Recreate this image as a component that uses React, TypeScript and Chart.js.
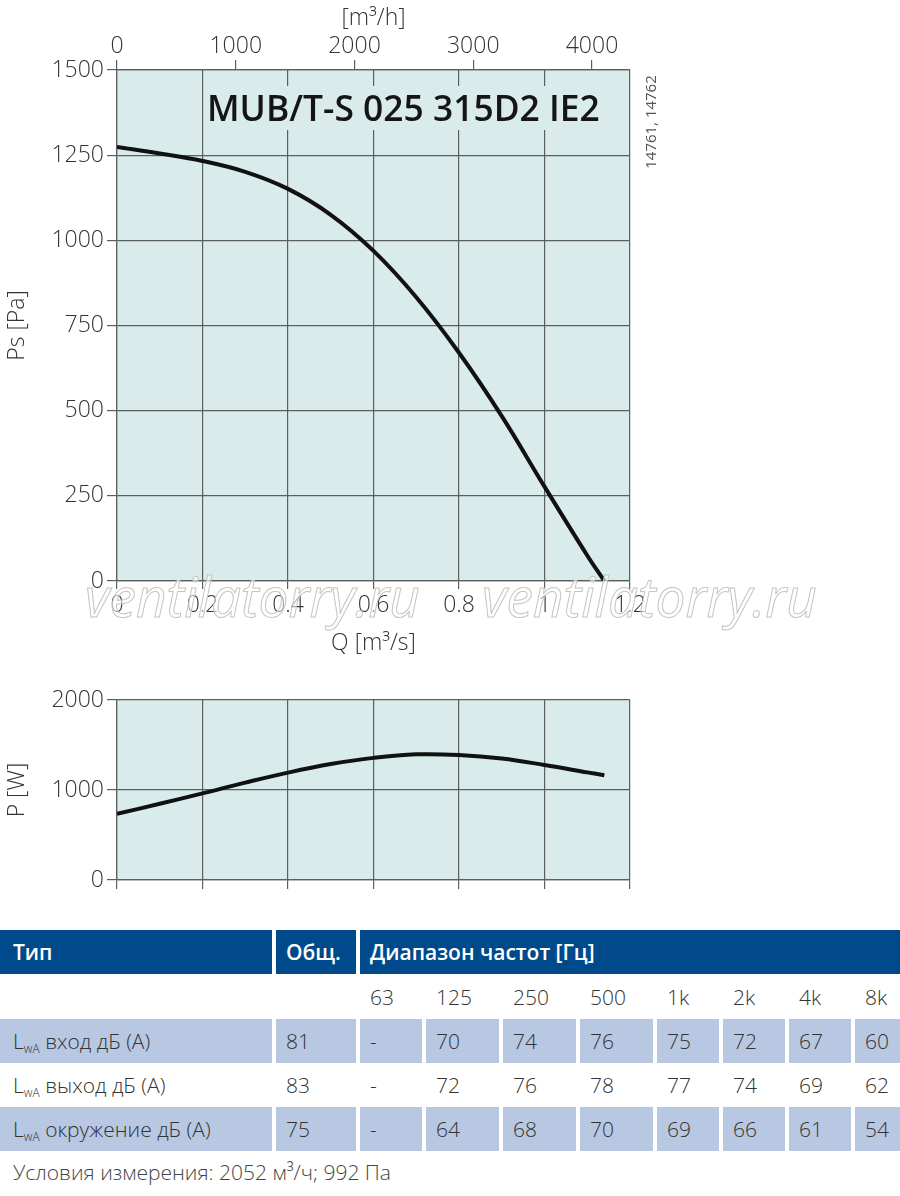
import React, { useEffect, useRef } from 'react';
import { Chart, registerables } from 'chart.js';

Chart.register(...registerables);

// ---- data ----
const flowQ = [0, 0.1, 0.2, 0.3, 0.4, 0.5, 0.6, 0.7, 0.8, 0.9, 1.0, 1.1, 1.14];
const staticPressure = [1274, 1255, 1233, 1201, 1151, 1075, 969, 833, 670, 484, 277, 75, 0];
const powerInput = [735, 847, 963, 1082, 1193, 1288, 1357, 1396, 1389, 1350, 1278, 1196, 1163];
const airflowTicks = [0, 1000, 2000, 3000, 4000];

const modelName = 'MUB/T-S 025 315D2 IE2';
const drawingRefs = '14761, 14762';
const watermarkText = 'ventilatorry.ru';

const headerLabels = ['Тип', 'Общ.', 'Диапазон частот [Гц]'];
const bandLabels = ['63', '125', '250', '500', '1k', '2k', '4k', '8k'];
const rowNames = ['вход', 'выход', 'окружение'];
const totalLevels = ['81', '83', '75'];
const inletLevels = ['-', '70', '74', '76', '75', '72', '67', '60'];
const outletLevels = ['-', '72', '76', '78', '77', '74', '69', '62'];
const surroundLevels = ['-', '64', '68', '70', '69', '66', '61', '54'];
const measurementNote = 'Условия измерения: 2052 м³/ч; 992 Па';

// ---- styles ----
const FONT = '"Open Sans", "Noto Sans", sans-serif';
const PLOT_BG = '#d9eceb';
const GRID = '#5a5f60';
const TEXT = '#333333';
const CURVE = '#111111';
const HEAD_BLUE = '#004a8c';
const CELL_BLUE = '#b8c7e2';
const colW = [272, 80, 62, 73, 73, 73, 62, 62, 62, 45];

Chart.defaults.font.family = FONT;

const tickFont = { family: FONT, size: 23, weight: 300 as any };

const plotBg = {
  id: 'plotBg',
  beforeDraw(chart: any) {
    const { ctx, chartArea: a } = chart;
    ctx.save();
    ctx.fillStyle = PLOT_BG;
    ctx.fillRect(a.left, a.top, a.right - a.left, a.bottom - a.top);
    ctx.restore();
  },
};

const topOverlay = {
  id: 'topOverlay',
  beforeDatasetsDraw(chart: any) {
    const { ctx, chartArea: a } = chart;
    ctx.save();
    ctx.fillStyle = PLOT_BG;
    ctx.fillRect(a.left + 88, a.top + 16, 397, 44);
    ctx.font = `600 34px ${FONT}`;
    const w0 = ctx.measureText(modelName).width;
    const size = (34 * 393) / w0;
    ctx.font = `600 ${size}px ${FONT}`;
    ctx.fillStyle = '#151515';
    ctx.textBaseline = 'alphabetic';
    ctx.textAlign = 'left';
    ctx.fillText(modelName, a.left + 90, a.top + 51);
    ctx.restore();
  },
  afterDraw(chart: any) {
    const { ctx, chartArea: a } = chart;
    ctx.save();
    ctx.translate(a.right + 22, a.top + 52);
    ctx.rotate(-Math.PI / 2);
    ctx.font = `15px ${FONT}`;
    ctx.fillStyle = '#555';
    ctx.textAlign = 'center';
    ctx.textBaseline = 'middle';
    ctx.fillText(drawingRefs, 0, 0);
    ctx.restore();

    [85, 482].forEach((sx) => {
      ctx.save();
      ctx.font = `italic 54px ${FONT}`;
      const w = ctx.measureText(watermarkText).width;
      ctx.translate(sx, a.bottom + 36);
      ctx.scale(335 / w, 1);
      ctx.fillStyle = 'rgba(255,255,255,0.55)';
      ctx.strokeStyle = '#c4c4c4';
      ctx.lineWidth = 1;
      ctx.textBaseline = 'alphabetic';
      ctx.fillText(watermarkText, 0, 0);
      ctx.strokeText(watermarkText, 0, 0);
      ctx.restore();
    });
  },
};

const fmtQ = (v: any) => String(Number(Number(v).toFixed(1)));
const fmtInt = (v: any) => String(Math.round(Number(v)));

function topConfig(): any {
  return {
    type: 'line',
    data: {
      datasets: [
        {
          data: flowQ.map((q, i) => ({ x: q, y: staticPressure[i] })),
          borderColor: CURVE,
          borderWidth: 4,
          pointRadius: 0,
          tension: 0.4,
          xAxisID: 'x',
          yAxisID: 'y',
        },
      ],
    },
    options: {
      animation: false,
      responsive: false,
      events: [],
      layout: { padding: { left: 0, top: 0, right: 270, bottom: 0 } },
      plugins: { legend: { display: false }, tooltip: { enabled: false } },
      scales: {
        x: {
          type: 'linear',
          position: 'bottom',
          min: 0,
          max: 1.2,
          ticks: { stepSize: 0.2, padding: 3, color: TEXT, font: tickFont, callback: fmtQ, maxRotation: 0 },
          grid: { color: GRID, lineWidth: 1.2, tickLength: 8, drawTicks: true },
          border: { color: GRID, width: 1.2 },
          title: { display: true, text: 'Q [m³/s]', color: TEXT, font: tickFont, padding: { top: 0, bottom: 8 } },
          afterFit: (s: any) => { s.height = 84; },
        },
        x2: {
          type: 'linear',
          position: 'top',
          min: 0,
          max: 1.2 * 3600,
          ticks: { padding: 0, color: TEXT, font: tickFont, maxRotation: 0, callback: fmtInt },
          afterBuildTicks: (s: any) => { s.ticks = airflowTicks.map((v) => ({ value: v })); },
          grid: { color: GRID, lineWidth: 1.2, tickLength: 10, drawOnChartArea: false, drawTicks: true },
          border: { color: GRID, width: 1.2 },
          title: { display: true, text: '[m³/h]', color: TEXT, font: tickFont, padding: { top: 5, bottom: 0 } },
          afterFit: (s: any) => { s.height = 70; },
        },
        y: {
          type: 'linear',
          position: 'left',
          min: 0,
          max: 1500,
          ticks: { stepSize: 250, padding: 3, color: TEXT, font: tickFont, callback: fmtInt },
          grid: { color: GRID, lineWidth: 1.2, tickLength: 10 },
          border: { color: GRID, width: 1.2 },
          title: { display: true, text: 'Ps [Pa]', color: TEXT, font: tickFont, padding: { top: 4, bottom: 0 } },
          afterFit: (s: any) => { s.width = 117; },
        },
      },
    },
    plugins: [plotBg, topOverlay],
  };
}

function bottomConfig(): any {
  return {
    type: 'line',
    data: {
      datasets: [
        {
          data: flowQ.map((q, i) => ({ x: q, y: powerInput[i] })),
          borderColor: CURVE,
          borderWidth: 4,
          pointRadius: 0,
          tension: 0.4,
        },
      ],
    },
    options: {
      animation: false,
      responsive: false,
      events: [],
      layout: { padding: { left: 0, top: 35, right: 270, bottom: 0 } },
      plugins: { legend: { display: false }, tooltip: { enabled: false } },
      scales: {
        x: {
          type: 'linear',
          position: 'bottom',
          min: 0,
          max: 1.2,
          ticks: { stepSize: 0.2, display: false },
          grid: { color: GRID, lineWidth: 1.2, tickLength: 9, drawTicks: true },
          border: { color: GRID, width: 1.2 },
          afterFit: (s: any) => { s.height = 20; },
        },
        y: {
          type: 'linear',
          position: 'left',
          min: 0,
          max: 2000,
          ticks: { stepSize: 1000, padding: 3, color: TEXT, font: tickFont, callback: fmtInt },
          grid: { color: GRID, lineWidth: 1.2, tickLength: 10 },
          border: { color: GRID, width: 1.2 },
          title: { display: true, text: 'P [W]', color: TEXT, font: tickFont, padding: { top: 4, bottom: 0 } },
          afterFit: (s: any) => { s.width = 117; },
        },
      },
    },
    plugins: [plotBg],
  };
}

const cellBase: React.CSSProperties = {
  boxSizing: 'border-box',
  display: 'flex',
  alignItems: 'center',
  paddingLeft: 10,
  fontSize: 21,
  fontWeight: 300,
  color: TEXT,
  whiteSpace: 'nowrap',
  overflow: 'hidden',
};

function Lwa({ name }: { name: string }) {
  return (
    <span>
      L<span style={{ fontSize: 12, position: 'relative', top: 4 }}>wA</span> {name} дБ (А)
    </span>
  );
}

function DataRow({ name, total, values, blue }: { name: string; total: string; values: string[]; blue: boolean }) {
  const bg = blue ? CELL_BLUE : 'transparent';
  const cells = [<Lwa name={name} />, total, ...values];
  return (
    <div style={{ display: 'flex', columnGap: 4, height: 44 }}>
      {cells.map((c, i) => (
        <div key={i} style={{ ...cellBase, width: colW[i], background: bg, paddingLeft: i === 0 ? 13 : 10 }}>
          {c}
        </div>
      ))}
    </div>
  );
}

export default function App() {
  const topRef = useRef<HTMLCanvasElement>(null);
  const botRef = useRef<HTMLCanvasElement>(null);

  useEffect(() => {
    const c1 = new Chart(topRef.current as HTMLCanvasElement, topConfig());
    const c2 = new Chart(botRef.current as HTMLCanvasElement, bottomConfig());
    return () => {
      c1.destroy();
      c2.destroy();
    };
  }, []);

  const levelRows = [inletLevels, outletLevels, surroundLevels];

  return (
    <div style={{ position: 'absolute', left: 0, top: 0, width: 900, height: 1196, background: '#fff', fontFamily: FONT }}>
      <canvas ref={topRef} width={900} height={665} style={{ position: 'absolute', left: 0, top: 0, width: 900, height: 665 }} />
      <canvas ref={botRef} width={900} height={235} style={{ position: 'absolute', left: 0, top: 665, width: 900, height: 235 }} />

      <div style={{ position: 'absolute', left: 0, top: 930, width: 900 }}>
        <div style={{ display: 'flex', columnGap: 4, height: 44 }}>
          {headerLabels.map((h, i) => (
            <div
              key={i}
              style={{
                ...cellBase,
                width: i === 0 ? colW[0] : i === 1 ? colW[1] : 540,
                background: HEAD_BLUE,
                color: '#fff',
                fontWeight: 600,
                paddingLeft: i === 0 ? 13 : 10,
              }}
            >
              {h}
            </div>
          ))}
        </div>
        <div style={{ display: 'flex', columnGap: 4, height: 45 }}>
          {['', '', ...bandLabels].map((b, i) => (
            <div key={i} style={{ ...cellBase, width: colW[i] }}>
              {b}
            </div>
          ))}
        </div>
        {rowNames.map((n, r) => (
          <DataRow key={n} name={n} total={totalLevels[r]} values={levelRows[r]} blue={r !== 1} />
        ))}
        <div style={{ ...cellBase, paddingLeft: 13, height: 42, color: '#444' }}>{measurementNote}</div>
      </div>
    </div>
  );
}
